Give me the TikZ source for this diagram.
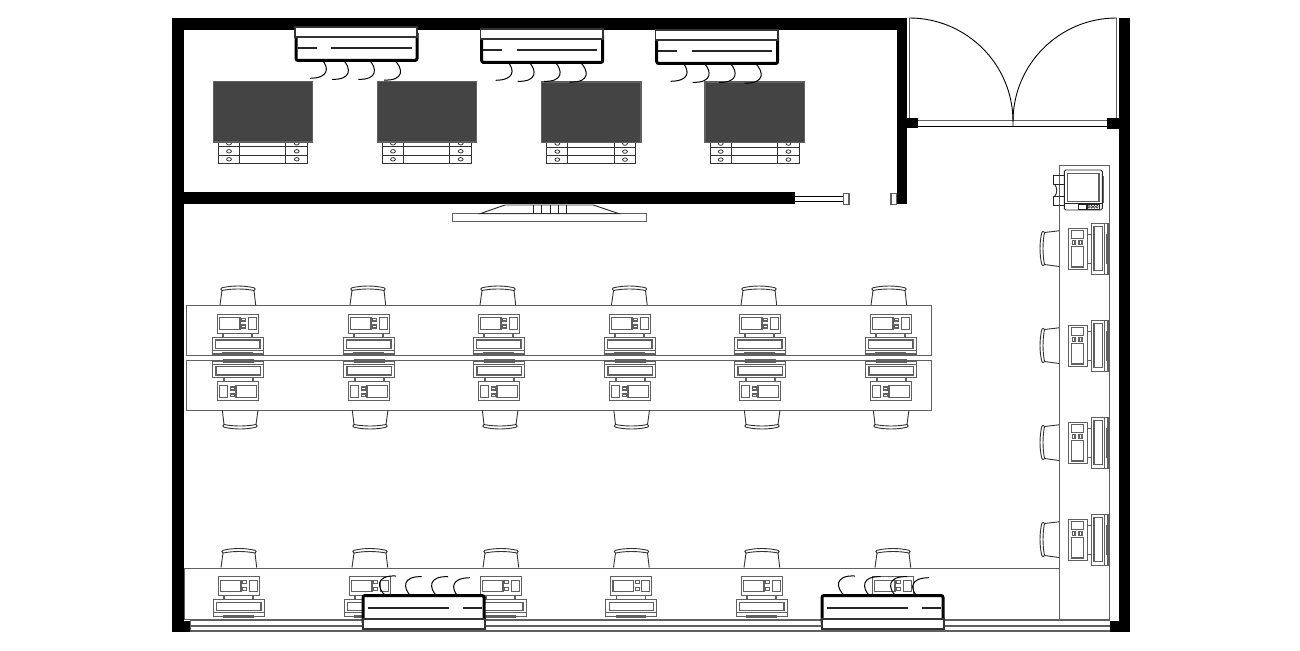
\documentclass[tikz,border=0pt]{standalone}
\definecolor{lgray}{HTML}{606060}
\definecolor{darkbox}{HTML}{444444}
\tikzset{
  wall/.style={fill=black,draw=none},
  thin gray/.style={draw=lgray,line width=1.1pt},
  deskbox/.style={draw=lgray,line width=1pt},
  wsline/.style={draw=lgray,line width=1.35pt},
  chairline/.style={draw=black!80,line width=0.9pt,line join=round},
  hook/.style={draw=black,line width=1pt},
  acbody/.style={draw=black,line width=3pt,fill=white,rounded corners=2pt},
  accover/.style={draw=black!80,line width=1.7pt,fill=white},
  acbar/.style={draw=black!85,line width=1.6pt},
  drawerline/.style={draw=black!80,line width=1pt},
  doorline/.style={draw=black,line width=0.9pt}
}
% one workstation: origin on the desk edge, chair above it; #1 = sideways shift of chair
\newcommand{\wkst}[1]{%
  \begin{scope}[xshift=#1pt]
    \draw[chairline] (-18,0) -- (-16,-14.5) .. controls (-6,-16.5) and (6,-16.5) .. (16,-14.5) -- (17.7,0);
    \draw[chairline] (-16,-14.5) .. controls (-17.8,-15.5) and (-17.5,-16.8) .. (-16,-17.2) .. controls (-6,-19.6) and (6,-19.6) .. (16,-17.2) .. controls (17.5,-16.8) and (17.8,-15.5) .. (16,-14.5);
  \end{scope}
  \path[wsline] (-20.7,9.3) rectangle (20.3,28.3);
  \path[wsline] (-18.5,12.7) rectangle (2,24.3);
  \path[wsline] (3.7,13.3) rectangle (7.7,16);
  \path[wsline] (3.7,20) rectangle (7.7,23);
  \path[wsline] (10.3,12.7) rectangle (18.3,24.3);
  \path[wsline] (-15,28.3) rectangle (14,32.3);
  \path[wsline] (-25.7,32.3) rectangle (25.3,49);
  \path[wsline] (-22.3,35) rectangle (22,43.3);
  \path[wsline] (-25.7,45.3) -- (25.3,45.3);
  \path[wsline] (-15,47.7) rectangle (14,50.3);
}
% air conditioner, coordinates of the first top unit
\newcommand{\acunit}{%
  \path[hook] (322.3,60) .. controls (329,68) and (329,78) .. (310,78.3);
  \path[hook] (343.3,60) .. controls (351,68) and (352,80) .. (332,79.3);
  \path[hook] (369.3,60) .. controls (377,68) and (378,80) .. (358.3,79.3);
  \path[hook] (394.3,60) .. controls (403,68) and (405,81) .. (384,80);
  \path[acbody] (296,33) -- (296,60.5) -- (417,60.5) -- (417,33);
  \path[accover] (294.7,27.3) rectangle (417.3,36.7);
  \path[acbar] (297.7,48.3) -- (316.7,48.3);
  \path[acbar] (331.3,48.3) -- (411.7,48.3);
}
% pedestal and dark screen of the back room, coordinates of the first one
\newcommand{\backstation}{%
  \path[drawerline] (218.3,140) rectangle (307.3,163.3);
  \path[drawerline] (218.3,146.7) -- (307.3,146.7);
  \path[drawerline] (218.3,155) -- (307.3,155);
  \path[drawerline] (239.3,140) -- (239.3,163.3);
  \path[drawerline] (285.7,140) -- (285.7,163.3);
  \foreach \cxa in {229,296.7}{\foreach \cya in {143.3,151.3,159.3}{
    \draw[black!80,line width=0.8pt] (\cxa,\cya) ellipse [x radius=2.4pt,y radius=1.7pt];}}
  \path[draw=lgray,line width=1.2pt,fill=darkbox] (213.3,81.7) rectangle (312.7,142);
}
\begin{document}
\begin{tikzpicture}[x=1pt,y=-1pt]
\useasboundingbox (0,0) rectangle (1300,650);
\fill[white] (0,0) rectangle (1300,650);

% back room
\backstation
\begin{scope}[xshift=164pt]\backstation\end{scope}
\begin{scope}[xshift=328.3pt,yshift=-0.3pt]\backstation\end{scope}
\begin{scope}[xshift=491.7pt,yshift=-0.3pt]\backstation\end{scope}

% window on bottom side
\path[thin gray] (190,620.5) -- (1110,620.5);
\path[thin gray] (190,626) -- (1110,626);
\path[thin gray] (190,631) -- (1110,631);
\path[thin gray] (190,620.5) -- (190,631);

% desks
\path[deskbox] (186,305) rectangle (931,355);
\path[deskbox] (186,360) rectangle (931,410);
\path[deskbox] (184.5,568.7) rectangle (1059,619.3);
\path[deskbox] (1059,165) rectangle (1109,619.3);

% workstations
\foreach \cx/\sa/\sb in {238/0/-2,369/-1/-1,499/-1/-1,630/-0.5/-1.5,760/-1/-2,891/-2/0}{
  \begin{scope}[shift={(\cx,305)}]\wkst{\sa}\end{scope}
  \begin{scope}[shift={(\cx,410)},rotate=180]\wkst{\sb}\end{scope}
}
\foreach \cx in {239,370,501,631.5,762,893}{
  \begin{scope}[shift={(\cx,567.5)}]\wkst{0}\end{scope}
}
\foreach \cy in {248.5,345.5,442.5,539.5}{
  \begin{scope}[shift={(1059,\cy)},rotate=90]\wkst{0}\end{scope}
}

% walls
\path[wall] (172,18.5) rectangle (906.7,30);
\path[wall] (172,18.5) rectangle (183.5,631.7);
\path[wall] (172,621) rectangle (190,631.7);
\path[wall] (896.5,18.5) rectangle (906.7,204.3);
\path[wall] (183,192.3) rectangle (794.7,204);
\path[wall] (1119,18) rectangle (1129.5,632);
\path[wall] (1110,621) rectangle (1129.5,632);

% sliding stub in the partition
\draw[black,line width=1pt] (794.7,196) -- (843.3,196);
\draw[black,line width=1pt] (794.7,201.7) -- (843.3,201.7);
\path[thin gray] (843.5,193.5) rectangle (849,204.3);
\path[thin gray] (891,193.5) rectangle (896.5,204.3);

% door
\path[draw=lgray,line width=1.2pt] (909.3,18) -- (909.3,118);
\path[draw=lgray,line width=1.2pt] (1116.5,18) -- (1116.5,118);
\path[wall] (906.7,117.7) rectangle (918.3,128.3);
\path[wall] (1107.3,118.3) rectangle (1119,129.3);
\path[draw=lgray,line width=1pt] (918.3,121) -- (1107.3,121);
\draw[black,line width=1pt] (918.3,126.3) -- (1107.3,126.3);
\path[doorline] (909.3,18) arc[start angle=90,end angle=0,radius=103.7pt] -- (1013,126.3);
\path[doorline] (1116.5,18) arc[start angle=90,end angle=180,radius=103.5pt];

% display on the partition
\path[thin gray] (452.7,213.7) rectangle (646.7,221.7);
\draw[black!85,line width=0.9pt] (480,213.7) -- (505,205) -- (593.3,205) -- (619,213.7) -- cycle;
\foreach \tx in {533.3,541.7,550,558.3,566.7}{\draw[black!85,line width=0.9pt] (\tx,205) -- (\tx,213.7);}

% till
\draw[black!85,line width=0.9pt,fill=white,rounded corners=1.5pt] (1064.3,170) rectangle (1102.3,210);
\path[wsline] (1067.7,173.3) rectangle (1099,201.7);
\draw[black!85,line width=0.7pt] (1064.3,203.5) -- (1102.3,203.5);
\draw[black!85,line width=0.7pt] (1078.3,204.3) rectangle (1086.7,209.3);
\draw[black!85,line width=0.7pt] (1087.3,204.3) rectangle (1099.3,209.3);
\foreach \kx in {1089,1091.7,1094.4,1097.1}{\draw[black!85,line width=0.5pt] (\kx,206.8) ellipse [x radius=1.1pt,y radius=1.5pt];}
\path[draw=lgray,line width=1pt] (1103.5,175.7) -- (1103.5,203);
\draw[black!85,line width=0.9pt] (1053.3,175.7) rectangle (1064.3,184);
\draw[black!85,line width=0.9pt] (1053.3,196.7) rectangle (1064.3,205);
\draw[black!85,line width=0.9pt] (1054.5,184) .. controls (1057.5,188) and (1057.5,193) .. (1054.5,196.7);
\draw[black!85,line width=0.9pt] (1064.3,184) -- (1064.3,196.7);

% top air conditioners
\acunit
\begin{scope}[xshift=185.7pt,yshift=-2pt]\acunit\end{scope}
\begin{scope}[xshift=360.7pt,yshift=-3pt]\acunit\end{scope}

% bottom air conditioners
\begin{scope}[shift={(780,656)},rotate=180]\acunit\end{scope}
\begin{scope}[shift={(1239,656)},rotate=180]\acunit\end{scope}
\end{tikzpicture}
\end{document}
